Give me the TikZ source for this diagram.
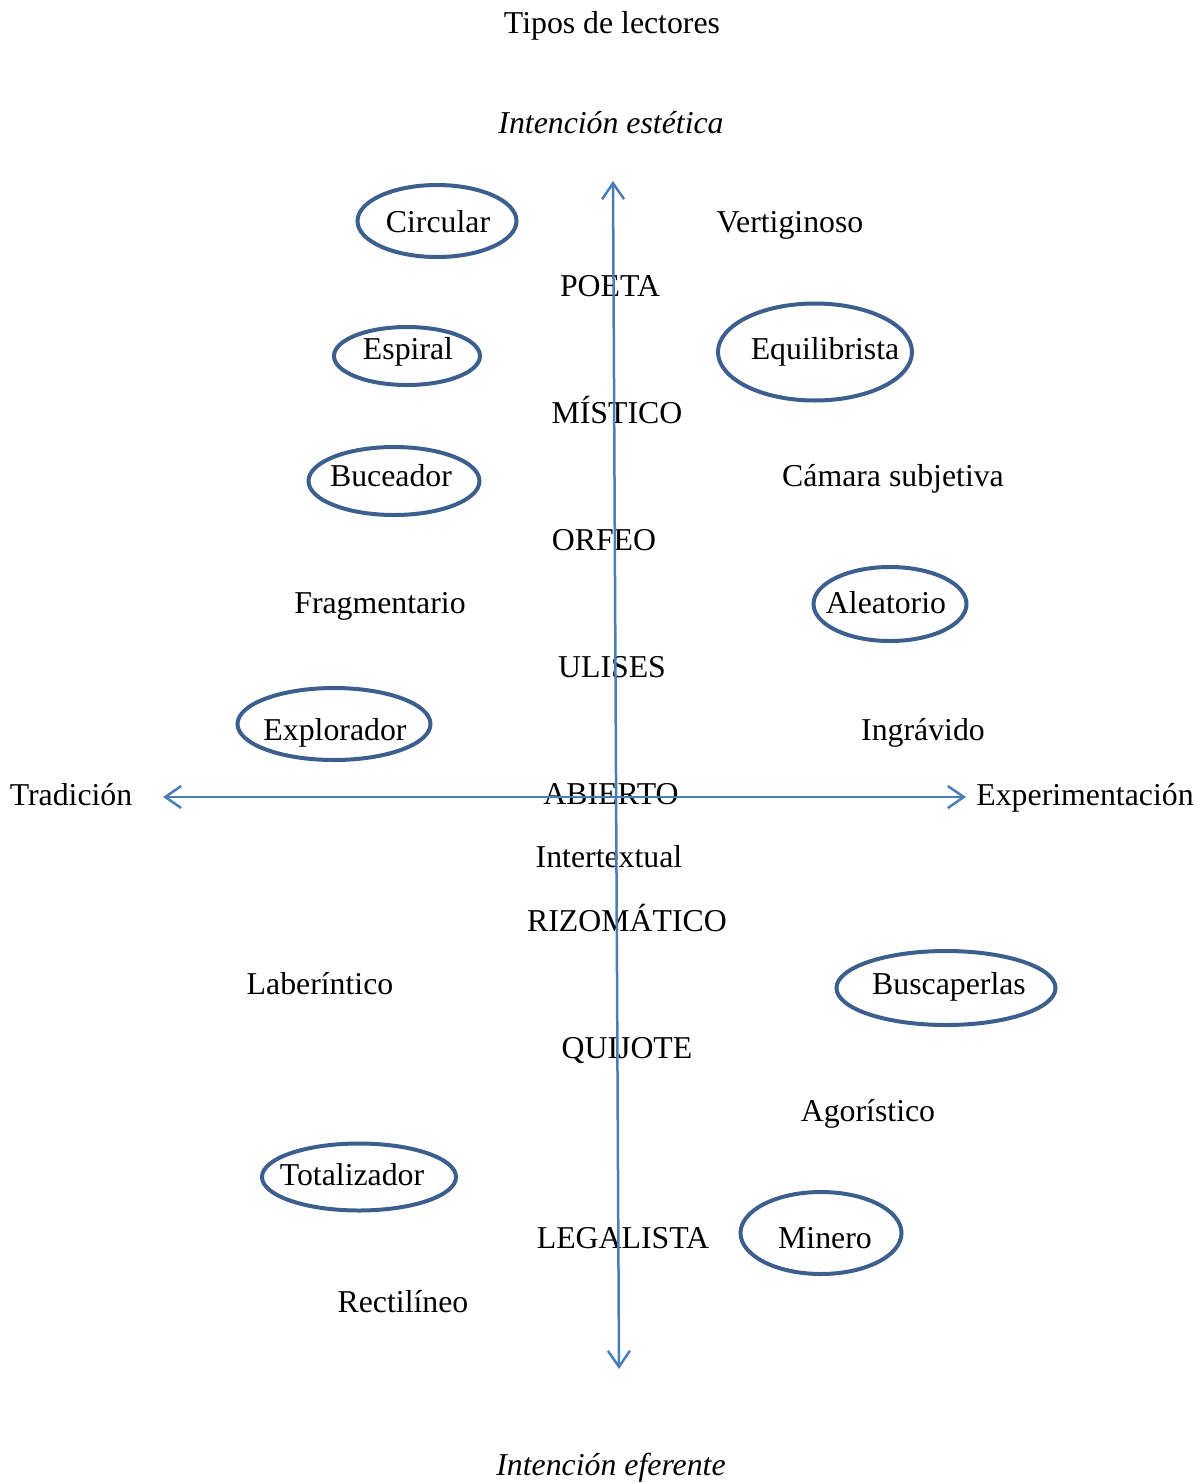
\documentclass[tikz,border=0pt]{standalone}
\usepackage{fontspec}
\setmainfont{Liberation Serif}
\usetikzlibrary{shapes.geometric,arrows.meta}
\definecolor{axisblue}{HTML}{4A7EBB}
\definecolor{ringblue}{HTML}{3C5F8E}
\begin{document}
\begin{tikzpicture}[x=1pt,y=-1pt,
  lbl/.style={inner sep=0pt,anchor=base,font=\fontsize{31.8}{38}\selectfont},
  ring/.style={ellipse,draw=ringblue,line width=4pt,inner sep=0pt},
  axis/.style={draw=axisblue,line width=2.5pt,{Straight Barb[length=16pt,width=22pt,line width=2.5pt]}-{Straight Barb[length=16pt,width=22pt,line width=2.5pt]}}]
\useasboundingbox (0,0) rectangle (1204,1484);
% axes
\coordinate (vtop) at (613,181);
\coordinate (vbot) at (619,1369);
\coordinate (hl) at (163,797);
\coordinate (hr) at (966,797);
% ellipses
\node[ring,minimum width=159pt,minimum height=72pt] (eCirc) at (437,221) {};
\node[ring,minimum width=146pt,minimum height=58pt] (eEsp) at (407,356) {};
\node[ring,minimum width=194pt,minimum height=97pt] (eEqu) at (815,352) {};
\node[ring,minimum width=171pt,minimum height=68pt] (eBuc) at (394,481) {};
\node[ring,minimum width=153pt,minimum height=74pt] (eAle) at (890,604) {};
\node[ring,minimum width=193pt,minimum height=72pt] (eExp) at (334,724) {};
\node[ring,minimum width=219pt,minimum height=74pt] (eBus) at (946,988) {};
\node[ring,minimum width=194pt,minimum height=67pt] (eTot) at (359,1177) {};
\node[ring,minimum width=161pt,minimum height=82pt] (eMin) at (821,1233) {};
% texts (positioned by baseline)
\node[lbl] (title) at (612,33) {Tipos de lectores};
\node[lbl] (top) at (611,133) {\itshape Intención estética};
\node[lbl] (bottom) at (611,1475) {\itshape Intención eferente};
\node[lbl] (trad) at (71,805) {Tradición};
\node[lbl] (expe) at (1085,805) {Experimentación};
\node[lbl] (circ) at (438,232) {Circular};
\node[lbl] (vert) at (790,232) {Vertiginoso};
\node[lbl] (poeta) at (610,296) {POETA};
\node[lbl] (esp) at (408,359) {Espiral};
\node[lbl] (equ) at (825,359) {Equilibrista};
\node[lbl] (mist) at (617,423) {MÍSTICO};
\node[lbl] (buc) at (391,486) {Buceador};
\node[lbl] (cam) at (893,486) {Cámara subjetiva};
\node[lbl] (orfeo) at (604,550) {ORFEO};
\node[lbl] (frag) at (380,613) {Fragmentario};
\node[lbl] (ale) at (886,613) {Aleatorio};
\node[lbl] (ulis) at (612,677) {ULISES};
\node[lbl] (expl) at (335,740) {Explorador};
\node[lbl] (ingr) at (923,740) {Ingrávido};
\node[lbl] (abie) at (611,804) {ABIERTO};
\node[lbl] (inter) at (609,867) {Intertextual};
\node[lbl] (rizo) at (627,931) {RIZOMÁTICO};
\node[lbl] (labe) at (320,994) {Laberíntico};
\node[lbl] (busc) at (949,994) {Buscaperlas};
\node[lbl] (quij) at (627,1058) {QUIJOTE};
\node[lbl] (agor) at (868,1121) {Agorístico};
\node[lbl] (tota) at (352,1185) {Totalizador};
\node[lbl] (lega) at (623,1248) {LEGALISTA};
\node[lbl] (mine) at (825,1248) {Minero};
\node[lbl] (rect) at (403,1312) {Rectilíneo};
% axis arrows
\draw[axis] (vbot) -- (vtop);
\draw[axis] (hl) -- (hr);
\end{tikzpicture}
\end{document}
